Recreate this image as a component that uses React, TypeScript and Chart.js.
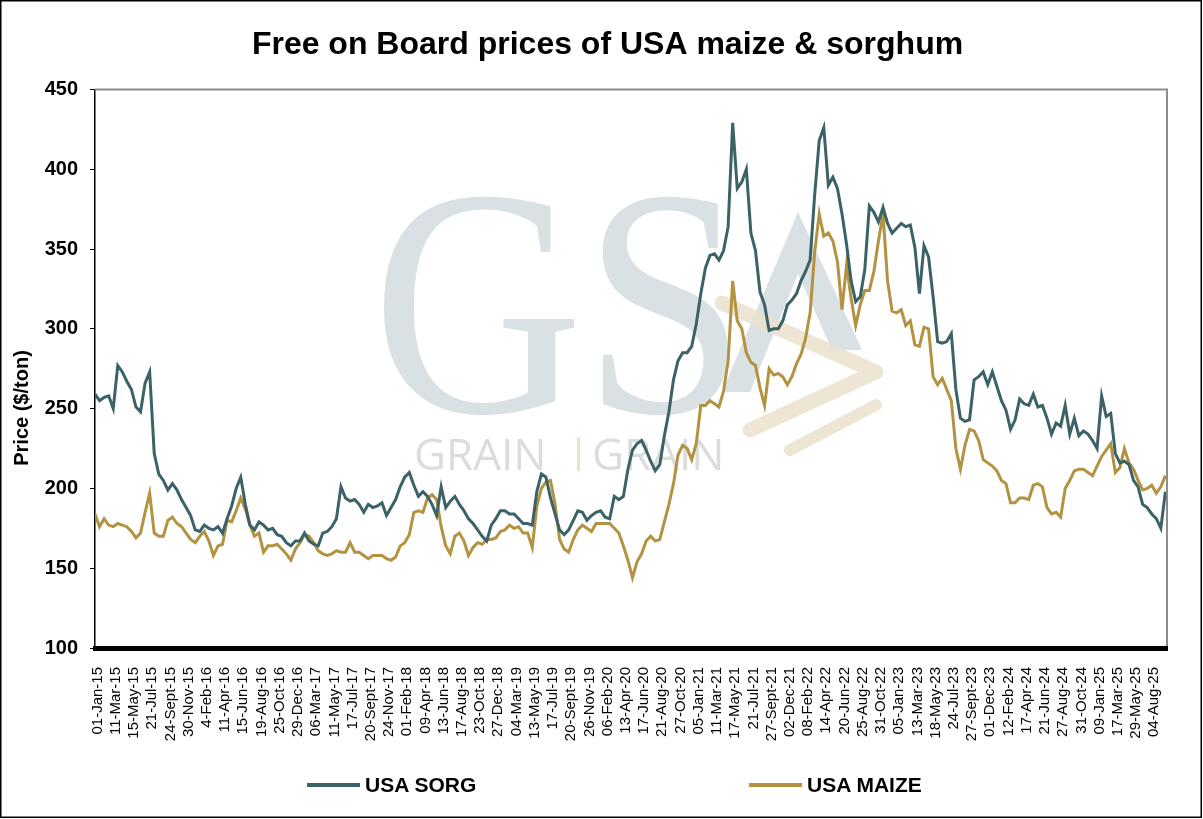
import React, { useEffect, useRef } from "react";
import { Chart, registerables } from "chart.js";

Chart.register(...registerables);

// ---- Data ----
// X-axis tick labels (evenly spaced category labels)
const tickLabels = [
  "01-Jan-15", "11-Mar-15", "15-May-15", "21-Jul-15", "24-Sept-15", "30-Nov-15",
  "4-Feb-16", "11-Apr-16", "15-Jun-16", "19-Aug-16", "25-Oct-16", "29-Dec-16",
  "06-Mar-17", "11-May-17", "17-Jul-17", "20-Sept-17", "24-Nov-17", "01-Feb-18",
  "09-Apr-18", "13-Jun-18", "17-Aug-18", "23-Oct-18", "27-Dec-18", "04-Mar-19",
  "13-May-19", "17-Jul-19", "20-Sept-19", "26-Nov-19", "06-Feb-20", "13-Apr-20",
  "17-Jun-20", "21-Aug-20", "27-Oct-20", "05-Jan-21", "11-Mar-21", "17-May-21",
  "21-Jul-21", "27-Sept-21", "02-Dec-21", "08-Feb-22", "14-Apr-22", "20-Jun-22",
  "25-Aug-22", "31-Oct-22", "05-Jan-23", "13-Mar-23", "18-May-23", "24-Jul-23",
  "27-Sept-23", "01-Dec-23", "12-Feb-24", "17-Apr-24", "21-Jun-24", "27-Aug-24",
  "31-Oct-24", "09-Jan-25", "17-Mar-25", "29-May-25", "04-Aug-25",
];

// USA sorghum FOB price ($/ton), sampled 4 times per tick interval
const sorghumPrices = [
  259, 255, 257, 258, 250, 277, 273, 267, 262, 251,
  248, 266, 273, 222, 209, 205, 199, 203, 199, 193,
  188, 183, 174, 173, 177, 175, 174, 176, 172, 181,
  189, 200, 207, 190, 177, 174, 179, 177, 174, 175,
  171, 170, 166, 164, 167, 167, 172, 167, 165, 164,
  172, 173, 176, 181, 201, 194, 192, 193, 190, 185,
  190, 188, 189, 191, 183, 188, 193, 201, 207, 210,
  202, 195, 198, 195, 190, 183, 201, 188, 192, 195,
  190, 186, 181, 178, 174, 170, 167, 177, 181, 186,
  186, 184, 184, 181, 178, 178, 177, 198, 209, 207,
  194, 184, 174, 171, 174, 180, 186, 185, 180, 183,
  185, 186, 182, 181, 195, 193, 195, 212, 224, 228,
  230, 224, 217, 211, 215, 233, 248, 268, 280, 285,
  285, 289, 303, 322, 338, 346, 347, 343, 349, 364,
  429, 388, 392, 400, 360, 349, 323, 315, 299, 300,
  300, 305, 315, 318, 322, 330, 336, 343, 384, 418,
  426, 390, 395, 388, 372, 353, 330, 317, 320, 337,
  377, 373, 367, 376, 366, 360, 363, 366, 364, 365,
  351, 322, 352, 345, 320, 292, 291, 292, 297, 262,
  244, 242, 243, 268, 270, 273, 265, 273, 264, 255,
  249, 237, 243, 256, 253, 252, 259, 251, 252, 244,
  234, 241, 239, 252, 234, 244, 233, 236, 234, 230,
  225, 258, 245, 247, 222, 216, 217, 215, 205, 201,
  190, 188, 184, 181, 175, 198,
];

// USA maize FOB price ($/ton), same sampling
const maizePrices = [
  184, 176, 181, 177, 176, 178, 177, 176, 173, 169,
  172, 185, 197, 172, 170, 170, 180, 182, 178, 176,
  172, 168, 166, 170, 173, 167, 158, 164, 165, 180,
  179, 186, 194, 187, 177, 170, 172, 160, 164, 164,
  165, 162, 159, 155, 162, 166, 171, 170, 166, 161,
  159, 158, 159, 161, 160, 160, 166, 160, 160, 158,
  156, 158, 158, 158, 156, 155, 157, 164, 166, 171,
  185, 186, 185, 194, 196, 193, 176, 164, 159, 170,
  172, 167, 158, 163, 166, 165, 168, 168, 169, 173,
  174, 177, 175, 176, 172, 172, 163, 189, 200, 204,
  205, 190, 168, 162, 160, 168, 174, 177, 175, 173,
  178, 178, 178, 178, 175, 172, 164, 155, 144, 154,
  159, 167, 170, 167, 168, 179, 190, 203, 221, 227,
  225, 218, 228, 252, 252, 255, 253, 251, 261, 280,
  330, 305, 300, 285, 279, 277, 263, 252, 275, 271,
  272, 270, 265, 270, 278, 284, 294, 310, 348, 372,
  358, 360, 355, 342, 312, 340, 319, 302, 315, 324,
  324, 336, 355, 372, 330, 311, 310, 312, 302, 305,
  290, 289, 301, 300, 270, 265, 269, 262, 255, 225,
  212, 227, 237, 236, 230, 218, 216, 214, 211, 205,
  203, 191, 191, 194, 194, 193, 202, 203, 201, 188,
  184, 185, 182, 200, 205, 211, 212, 212, 210, 208,
  214, 220, 224, 228, 210, 213, 225, 216, 212, 205,
  199, 200, 202, 197, 201, 208,
];

const seriesNames = ["USA SORG", "USA MAIZE"];
const seriesColors = ["#3b6267", "#b39341"];
const chartTitle = "Free on Board prices of USA maize & sorghum";
const yAxisTitle = "Price ($/ton)";
const yMin = 100;
const yMax = 450;
const yStep = 50;

// sampling geometry: 4 samples per tick interval
const SAMPLES_PER_TICK = 4;
const FIRST_TICK_SAMPLE = 0.55;
const X_MAX_SAMPLE = 235.35;

const FONT = "'Liberation Sans', Arial, Helvetica, sans-serif";

const decorPlugin = {
  id: "decor",
  beforeDatasetsDraw(chart: any) {
    const { ctx, chartArea } = chart;
    ctx.save();
    ctx.beginPath();
    ctx.rect(chartArea.left, chartArea.top, chartArea.right - chartArea.left, chartArea.bottom - chartArea.top);
    ctx.clip();
    // faint GSA watermark
    ctx.fillStyle = "rgba(210,220,223,0.85)";
    ctx.font = "325px 'Liberation Serif', serif";
    ctx.textBaseline = "alphabetic";
    ctx.textAlign = "left";
    ctx.save();
    ctx.translate(372, 412);
    ctx.scale(0.9, 1);
    ctx.fillText("GS", 0, 0);
    ctx.restore();
    ctx.beginPath();
    ctx.moveTo(798, 212);
    ctx.lineTo(862, 350);
    ctx.lineTo(832, 350);
    ctx.lineTo(798, 274);
    ctx.lineTo(750, 392);
    ctx.lineTo(722, 392);
    ctx.closePath();
    ctx.fill();
    ctx.strokeStyle = "rgba(234,226,204,0.85)";
    ctx.lineCap = "round";
    ctx.lineJoin = "round";
    ctx.lineWidth = 15;
    ctx.beginPath();
    ctx.moveTo(722, 303);
    ctx.lineTo(876, 372);
    ctx.lineTo(750, 430);
    ctx.stroke();
    ctx.lineWidth = 12;
    ctx.beginPath();
    ctx.moveTo(790, 450);
    ctx.lineTo(876, 405);
    ctx.stroke();
    ctx.font = "44px 'Open Sans', sans-serif";
    ctx.fillStyle = "rgba(214,214,214,0.85)";
    ctx.fillText("GRAIN", 414, 470);
    ctx.fillText("GRAIN", 592, 470);
    ctx.fillStyle = "rgba(232,220,190,0.85)";
    ctx.fillRect(577, 437, 3, 34);
    ctx.restore();
  },
  afterDraw(chart: any) {
    const { ctx, chartArea } = chart;
    ctx.save();
    // grey plot frame (top and right)
    ctx.strokeStyle = "#8c8c8c";
    ctx.lineWidth = 2;
    ctx.beginPath();
    ctx.moveTo(chartArea.left, chartArea.top);
    ctx.lineTo(chartArea.right, chartArea.top);
    ctx.lineTo(chartArea.right, chartArea.bottom - 2);
    ctx.stroke();
    // y-axis title
    ctx.fillStyle = "#000";
    ctx.font = `bold 20px ${FONT}`;
    ctx.textAlign = "center";
    ctx.textBaseline = "middle";
    ctx.translate(22, 408);
    ctx.rotate(-Math.PI / 2);
    ctx.fillText(yAxisTitle, 0, 0);
    ctx.restore();
    // outer frame
    ctx.save();
    ctx.strokeStyle = "#000";
    ctx.lineWidth = 1.5;
    ctx.strokeRect(0.75, 0.75, 1200.5, 816.5);
    ctx.restore();
  },
};

function ChartView() {
  const canvasRef = useRef<HTMLCanvasElement | null>(null);

  useEffect(() => {
    const canvas = canvasRef.current;
    if (!canvas) return;
    const toPoints = (arr: number[]) => arr.map((v, i) => ({ x: i, y: v }));
    const chart = new Chart(canvas, {
      type: "line",
      data: {
        datasets: [
          {
            label: seriesNames[0],
            data: toPoints(sorghumPrices),
            borderColor: seriesColors[0],
            backgroundColor: seriesColors[0],
            borderWidth: 3,
            pointRadius: 0,
            tension: 0,
          },
          {
            label: seriesNames[1],
            data: toPoints(maizePrices),
            borderColor: seriesColors[1],
            backgroundColor: seriesColors[1],
            borderWidth: 3,
            pointRadius: 0,
            tension: 0,
          },
        ],
      },
      options: {
        responsive: false,
        animation: false,
        devicePixelRatio: 1,
        layout: { padding: { top: 0, left: 12, right: 0, bottom: 71 } },
        plugins: {
          legend: { display: false },
          tooltip: { enabled: false },
          title: {
            display: true,
            text: chartTitle,
            color: "#000",
            font: { family: FONT, size: 32, weight: "bold" },
            padding: { top: 26, bottom: 25 },
          },
        },
        scales: {
          x: {
            type: "linear",
            min: 0,
            max: X_MAX_SAMPLE,
            afterBuildTicks: (scale: any) => {
              scale.ticks = tickLabels.map((_, k) => ({ value: FIRST_TICK_SAMPLE + SAMPLES_PER_TICK * k }));
            },
            afterFit: (scale: any) => {
              scale.height = 100;
            },
            grid: { display: false },
            border: { display: true, color: "#000", width: 5 },
            ticks: {
              autoSkip: false,
              minRotation: 90,
              maxRotation: 90,
              padding: 11,
              color: "#000",
              font: { family: FONT, size: 15 },
              callback: (_v: any, index: number) => tickLabels[index] ?? "",
            },
          },
          y: {
            min: yMin,
            max: yMax,
            afterFit: (scale: any) => {
              scale.width = 83;
            },
            grid: {
              display: true,
              drawOnChartArea: false,
              drawTicks: true,
              tickLength: 5,
              color: "#000",
              lineWidth: 1,
            },
            border: { display: true, color: "#000", width: 1.5 },
            ticks: {
              stepSize: yStep,
              padding: 12,
              color: "#000",
              font: { family: FONT, size: 20, weight: "bold" },
            },
          },
          yRightSpace: {
            position: "right",
            display: true,
            afterFit: (scale: any) => {
              scale.width = 36;
            },
            grid: { display: false },
            border: { display: false },
            ticks: { display: false },
          },
        },
      },
      plugins: [decorPlugin],
    });
    return () => chart.destroy();
  }, []);

  return <canvas ref={canvasRef} width={1203} height={819} style={{ display: "block" }} />;
}

function LegendItem({ left, color, text }: { left: number; color: string; text: string }) {
  return (
    <div
      style={{
        position: "absolute",
        left,
        top: 773,
        height: 24,
        display: "flex",
        alignItems: "center",
        fontFamily: FONT,
        fontWeight: "bold",
        fontSize: 21,
        color: "#000",
        whiteSpace: "nowrap",
      }}
    >
      <span style={{ display: "inline-block", width: 53, height: 4, background: color, marginRight: 5 }} />
      <span>{text}</span>
    </div>
  );
}

export default function App() {
  return (
    <div style={{ position: "absolute", left: 0, top: 0, width: 1203, height: 819, background: "#fff", overflow: "hidden" }}>
      <ChartView />
      <LegendItem left={307} color={seriesColors[0]} text={seriesNames[0]} />
      <LegendItem left={749} color={seriesColors[1]} text={seriesNames[1]} />
    </div>
  );
}
